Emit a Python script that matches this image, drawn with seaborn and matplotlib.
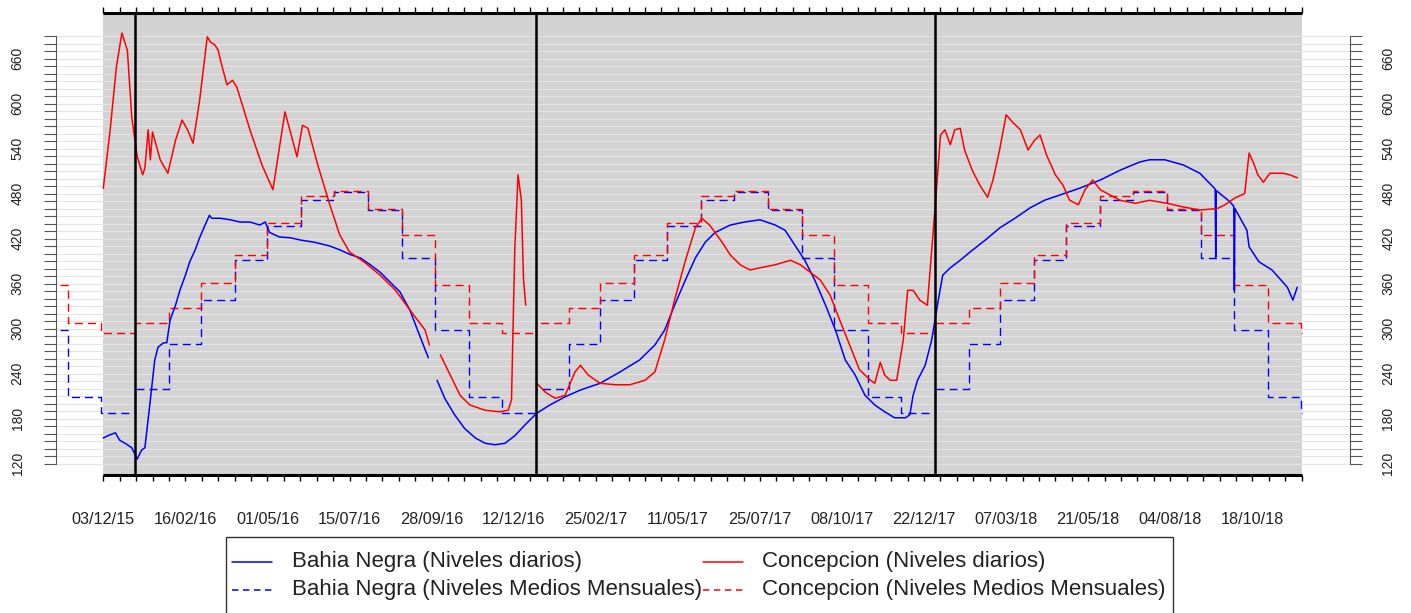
import numpy as np
import pandas as pd
import matplotlib
matplotlib.use("Agg")
import matplotlib.pyplot as plt
import matplotlib.dates as mdates
from matplotlib.ticker import FixedLocator, FixedFormatter, NullFormatter
from matplotlib.lines import Line2D
from matplotlib.patches import Rectangle
import seaborn as sns

# ---------------- data ----------------
START = pd.Timestamp("2015-12-03")
NAN = np.nan

# Bahia Negra daily levels: days after 03/12/15, level (NaN = gap)
bn_days = [0, 4, 11, 15, 20, 26, 31, 35, 38, 43, 47, 50, 55, 58, 61, 66, 70, 75, 79, 84,
           88, 93, 97, 99, 107, 116, 125, 134, 143, 148, 152, 161, 171, 180, 193, 207,
           216, 225, 235, 244, 253, 262, 271, 280, 289, 297, NAN,
           305, 312, 321, 330, 340, 349, 358, 367, 376, 385, 396, 408, 422, 436, 454,
           472, 490, 504, 513, 522, 532, 541, 550, 559, 573, 586, 600, 614, 623, 632,
           641, 650, 660, 669, 678, 687, 696, 705, 714, 723, 733, 737, 740, 744, 751,
           757, 763, 767, 774, 783, 792, 806, 819, 833, 847, 860, 874, 892, 911, 929,
           947, 956, 970, 987, 1002, 1014, 1016.0, 1016.5, 1017.0, 1029.5, 1033.0,
           1033.5, 1034.0, 1045, 1047, 1056, 1068, 1082, 1087, 1091]
bn_vals = [154, 157, 161, 151, 147, 141, 126, 138, 141, 205, 258, 275, 281, 281, 311, 331,
           351, 371, 389, 405, 421, 438, 451, 447, 447, 445, 442, 442, 438, 442, 428, 422,
           421, 418, 415, 410, 405, 399, 394, 385, 375, 362, 349, 325, 291, 261, NAN,
           231, 207, 185, 167, 154, 147, 145, 147, 157, 171, 187, 198, 209, 218, 227,
           242, 258, 278, 298, 331, 365, 394, 415, 428, 438, 442, 445, 438, 431, 411,
           391, 365, 331, 298, 258, 238, 211, 198, 189, 181, 181, 185, 211, 231, 251,
           285, 338, 371, 381, 391, 402, 418, 434, 447, 461, 471, 478, 487, 498, 511,
           522, 525, 525, 518, 507, 489, 486, 395, 484, 469, 463,
           351, 460, 431, 409, 389, 378, 355, 338, 355]

# Concepcion daily levels
co_days = [0, 6, 12, 17, 22, 26, 31, 36, 38, 41, 43, 45, 52, 59, 66, 72, 77, 82, 88, 95,
           98, 102, 105, 107, 113, 118, 122, 134, 145, 155, 166, 177, 182, 187, 196, 207,
           216, 225, 239, 253, 267, 280, 294, 298, NAN,
           308, 317, 326, 335, 349, 362, 370, 373, 376, 379, 382, 384, 386, NAN,
           396, 404, 413, 422, 431, 436, 443, 454, 468, 481, 495, 504, 513, 522, 532,
           541, 547, 554, 564, 573, 582, 591, 600, 614, 628, 637, 646, 655, 664, 673,
           682, 691, 701, 705, 710, 714, 719, 725, 731, 735, 740, 746, 753, 757, 762,
           765, 769, 774, 778, 783, 787, 794, 801, 808, 813, 819, 825, 831, 838, 845,
           851, 856, 862, 870, 877, 883, 891, 897, 904, 911, 920, 929, 943, 956, 972,
           987, 1002, 1018, 1025, 1034, 1043, 1047, 1051, 1055, 1060, 1066, 1078, 1084, 1091]
co_vals = [487, 561, 649, 694, 671, 582, 529, 505, 514, 565, 525, 562, 525, 507, 551, 578,
           565, 547, 604, 689, 682, 678, 671, 658, 625, 631, 622, 565, 518, 485, 589, 529,
           571, 567, 518, 465, 425, 402, 388, 371, 351, 325, 298, 278, NAN,
           265, 238, 211, 198, 191, 189, 191, 205, 405, 505, 471, 365, 331, NAN,
           227, 215, 207, 211, 242, 251, 238, 227, 225, 225, 231, 242, 285, 338, 391,
           434, 447, 438, 418, 398, 385, 378, 381, 385, 391, 385, 375, 365, 345, 311,
           278, 245, 231, 227, 255, 238, 231, 231, 285, 351, 351, 338, 331, 405, 498,
           558, 565, 545, 565, 567, 538, 511, 491, 475, 498, 538, 585, 575, 565, 538,
           551, 558, 531, 505, 491, 471, 465, 485, 498, 485, 478, 471, 467, 471, 467,
           462, 458, 460, 465, 474, 480, 534, 521, 505, 495, 507, 507, 505, 501]

# Long-term monthly means (Jan..Dec)
bn_monthly = [219, 279, 338, 392, 437, 471, 482, 458, 394, 298, 209, 187]
co_monthly = [307, 327, 361, 398, 441, 477, 484, 460, 425, 358, 307, 294]
monthly_first = "2015-10-01"
monthly_last = "2018-12-01"
monthly_end = "2018-12-02"

xtick_dates = pd.date_range("2015-12-03", periods=15, freq="75D")
year_lines = ["2016-01-01", "2017-01-01", "2018-01-01"]
ytick_major = list(range(120, 661, 60))
ytick_minor = list(range(120, 691, 10))

legend_labels = ["Bahia Negra (Niveles diarios)",
                 "Bahia Negra (Niveles Medios Mensuales)",
                 "Concepcion (Niveles diarios)",
                 "Concepcion (Niveles Medios Mensuales)"]

# ---------------- frames ----------------
def daily_frame(days, vals):
    df = pd.DataFrame({"day": days, "val": vals})
    df["seg"] = df["val"].isna().cumsum()
    df = df.dropna().copy()
    df["date"] = START + pd.to_timedelta(df["day"], unit="D")
    return df


def monthly_frame(clim):
    months = pd.date_range(monthly_first, monthly_last, freq="MS")
    dates = list(months) + [pd.Timestamp(monthly_end)]
    vals = [clim[m.month - 1] for m in months] + [clim[11]]
    return pd.DataFrame({"date": dates, "val": vals})


bn_d = daily_frame(bn_days, bn_vals)
co_d = daily_frame(co_days, co_vals)
bn_m = monthly_frame(bn_monthly)
co_m = monthly_frame(co_monthly)

# ---------------- figure ----------------
sns.set_theme(style="white")
plt.rcParams["font.family"] = ["Liberation Sans", "DejaVu Sans"]

W, H = 1411, 613
fig = plt.figure(figsize=(W / 100, H / 100), dpi=100)
ax = fig.add_axes([56 / W, (H - 475) / H, (1350 - 56) / W, (475 - 13) / H])

x0 = mdates.date2num(START - pd.Timedelta(days=43.22))
x1 = mdates.date2num(START + pd.Timedelta(days=1139.2))
g0 = mdates.date2num(START)
g1 = mdates.date2num(START + pd.Timedelta(days=1095.5))
y0, y1 = 104.7, 720.7

ax.axvspan(g0, g1, color="#d3d3d3", lw=0, zorder=0)
ax.hlines(ytick_minor, x0, x1, colors="#e4e4e4", lw=0.8, zorder=0.6)

dash = (0, (5.8, 3.6))
sns.lineplot(data=bn_m, x="date", y="val", ax=ax, color="blue", lw=1.0,
             drawstyle="steps-post", linestyle=dash, estimator=None,
             legend=False, zorder=2)
sns.lineplot(data=co_m, x="date", y="val", ax=ax, color="red", lw=1.0,
             drawstyle="steps-post", linestyle=dash, estimator=None,
             legend=False, zorder=2)
sns.lineplot(data=bn_d, x="date", y="val", units="seg", estimator=None, ax=ax,
             color="blue", lw=1.1, legend=False, zorder=4)
sns.lineplot(data=co_d, x="date", y="val", units="seg", estimator=None, ax=ax,
             color="red", lw=1.1, legend=False, zorder=4)

for d in year_lines:
    ax.axvline(mdates.date2num(pd.Timestamp(d)), color="black", lw=1.8, zorder=5)

ax.hlines([y0, y1], g0, g1, colors="black", lw=2.2, clip_on=False, zorder=6)

ax.set_xlim(x0, x1)
ax.set_ylim(y0, y1)
ax.set_xlabel("")
ax.set_ylabel("")

for s in ["top", "bottom"]:
    ax.spines[s].set_visible(False)
for s in ["left", "right"]:
    ax.spines[s].set_visible(True)
    ax.spines[s].set_bounds(ytick_minor[0], ytick_minor[-1])
    ax.spines[s].set_color("#555555")
    ax.spines[s].set_linewidth(0.8)

# x ticks
ax.xaxis.set_major_locator(FixedLocator(mdates.date2num(xtick_dates)))
ax.xaxis.set_major_formatter(FixedFormatter([d.strftime("%d/%m/%y") for d in xtick_dates]))
minor_x = pd.date_range(START, periods=74, freq="15D")
ax.xaxis.set_minor_locator(FixedLocator(mdates.date2num(minor_x)))
ax.xaxis.set_minor_formatter(NullFormatter())
ax.tick_params(axis="x", which="both", bottom=True, top=True, direction="out",
               length=4.5, width=1.0, color="black")
ax.tick_params(axis="x", which="major", labelsize=11.7, pad=22, labelcolor="#222222")

# y ticks
ax.yaxis.set_major_locator(FixedLocator(ytick_major))
ax.yaxis.set_major_formatter(FixedFormatter([str(v) for v in ytick_major]))
ax.yaxis.set_minor_locator(FixedLocator(ytick_minor))
ax.yaxis.set_minor_formatter(NullFormatter())
ax.tick_params(axis="y", which="both", left=True, right=True, direction="out",
               length=8.6, width=0.8, color="#555555")
ax.tick_params(axis="y", which="major", labelleft=True, labelright=True,
               labelsize=10, labelrotation=90, pad=14, labelcolor="#222222")
for t in ax.yaxis.get_major_ticks():
    t.label1.set_va("center")
    t.label2.set_va("center")
ax.grid(False)

# legend (box runs off the bottom of the image like the original)
fig.add_artist(Rectangle((226 / W, -0.1), (1173 - 226) / W, 0.1 + (H - 537) / H,
                         transform=fig.transFigure, fill=False, ec="#333333", lw=1.0))
leg_dash = (0, (4.2, 3.0))
specs = [("blue", "-", 232, 292, 562), ("blue", leg_dash, 232, 292, 590),
         ("red", "-", 703, 762, 562), ("red", leg_dash, 703, 762, 590)]
for (c, ls, hx, tx, yy), lab in zip(specs, legend_labels):
    fig.add_artist(Line2D([hx / W, (hx + 40) / W], [1 - yy / H] * 2, transform=fig.transFigure,
                          color=c, lw=1.1, linestyle=ls))
    fig.text(tx / W, 1 - yy / H, lab, fontsize=16, va="center", ha="left", color="#222222")

fig.savefig("out.png", dpi=100)
